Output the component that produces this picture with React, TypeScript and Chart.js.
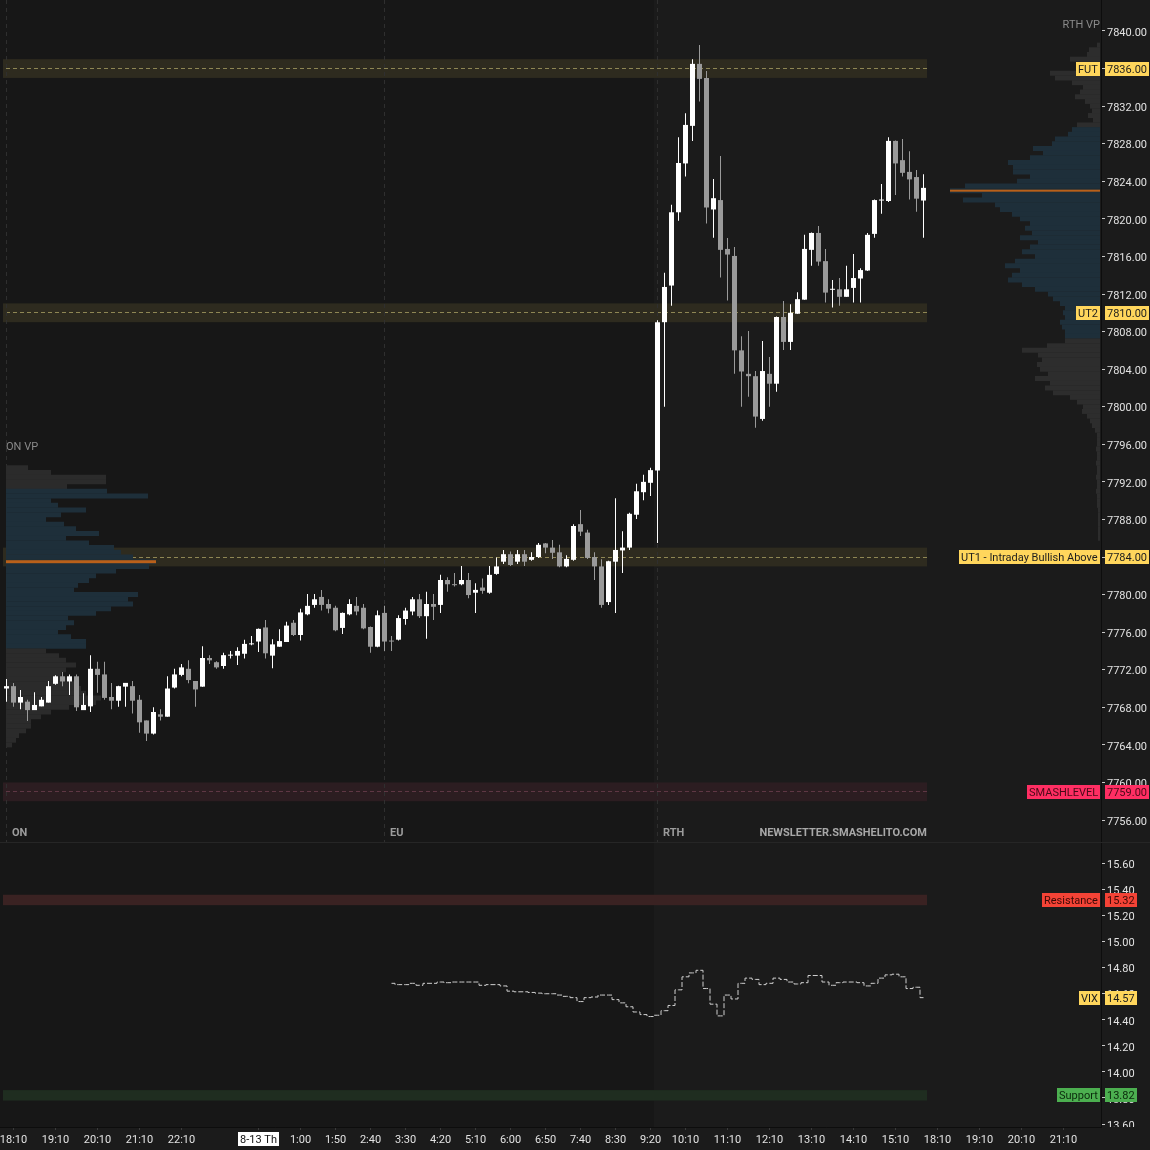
import React, { useEffect, useRef } from 'react';
import { Chart, registerables } from 'chart.js';

Chart.register(...registerables);

// ---------------- DATA ----------------
// 10-minute bars, index 0 = 18:00 (ON open)
const opens = [
  7770.0, 7770.25, 7768.5, 7768.6, 7767.7, 7768.1, 7768.5, 7770.5, 7771.3, 7770.75,
  7771.3, 7767.7, 7768.1, 7772.1, 7771.5, 7769.1, 7768.7, 7770.2, 7770.25, 7768.8,
  7766.6, 7765.2, 7767.25, 7767.0, 7770.1, 7771.45, 7772.1, 7770.8, 7770.2, 7773.25,
  7772.8, 7772.4, 7773.5, 7773.5, 7773.7, 7774.7, 7775.0, 7776.5, 7773.5, 7774.45,
  7774.95, 7777.0, 7775.7, 7777.9, 7778.9, 7779.75, 7779.0, 7778.6, 7776.45, 7777.9,
  7778.8, 7778.6, 7776.55, 7774.45, 7778.05, 7775.1, 7775.2, 7777.4, 7778.2, 7779.5,
  7777.7, 7779.0, 7778.9, 7781.55, 7781.05, 7781.1, 7781.55, 7780.2, 7780.75, 7780.2,
  7782.2, 7783.5, 7784.3, 7783.5, 7784.3, 7783.7, 7784.0, 7785.45, 7785.0, 7784.5,
  7783.0, 7783.7, 7787.5, 7786.6, 7784.0, 7783.0, 7779.2, 7783.5, 7784.7, 7785.0,
  7788.5, 7790.9, 7791.9, 7793.2, 7809.0, 7812.9, 7820.7, 7825.9, 7829.9, 7836.5,
  7835.0, 7821.0, 7822.0, 7816.8, 7816.05, 7806.0, 7803.5, 7803.25, 7798.7, 7803.5,
  7802.45, 7809.55, 7806.9, 7809.9, 7811.4, 7816.7, 7818.5, 7815.5, 7812.45, 7812.5,
  7811.7, 7812.65, 7813.65, 7814.5, 7818.4, 7821.95, 7821.9, 7828.3, 7826.25, 7825.0,
  7824.45, 7821.95,
];
const highs = [
  7771.0, 7770.6, 7769.85, 7768.8, 7769.6, 7769.1, 7770.8, 7771.4, 7771.75, 7771.5,
  7771.5, 7769.5, 7773.55, 7772.85, 7772.85, 7770.6, 7770.3, 7770.6, 7770.8, 7769.3,
  7766.6, 7768.0, 7767.8, 7771.3, 7772.1, 7772.6, 7773.0, 7770.8, 7774.5, 7773.55,
  7772.9, 7773.8, 7774.0, 7774.4, 7775.2, 7775.6, 7776.4, 7777.3, 7775.25, 7776.3,
  7777.1, 7777.3, 7778.5, 7780.05, 7780.05, 7780.5, 7779.5, 7778.8, 7778.1, 7779.5,
  7779.75, 7779.0, 7776.6, 7778.3, 7778.8, 7775.6, 7777.8, 7778.6, 7779.75, 7780.05,
  7780.3, 7780.05, 7782.1, 7781.85, 7782.3, 7783.05, 7782.3, 7781.2, 7781.7, 7783.05,
  7783.95, 7784.75, 7784.6, 7784.75, 7784.75, 7784.5, 7785.5, 7785.5, 7785.8, 7785.3,
  7784.2, 7787.5, 7789.0, 7786.9, 7784.5, 7783.75, 7783.6, 7790.25, 7786.75, 7788.7,
  7791.8, 7792.75, 7793.5, 7809.2, 7814.25, 7821.5, 7828.7, 7831.25, 7837.0, 7838.5,
  7835.75, 7824.25, 7826.7, 7817.95, 7817.0, 7807.5, 7808.05, 7803.8, 7807.0, 7805.3,
  7809.6, 7811.25, 7810.9, 7812.2, 7818.3, 7818.55, 7819.25, 7816.8, 7813.5, 7813.7,
  7815.0, 7816.25, 7814.75, 7818.5, 7822.05, 7823.7, 7828.7, 7828.35, 7828.5, 7827.2,
  7825.2, 7824.75,
];
const lows = [
  7768.6, 7768.05, 7767.8, 7766.55, 7767.7, 7768.1, 7768.5, 7770.4, 7770.25, 7769.3,
  7767.6, 7767.7, 7767.5, 7769.55, 7768.8, 7767.8, 7768.05, 7768.05, 7767.35, 7765.3,
  7764.4, 7765.1, 7766.6, 7767.0, 7770.0, 7771.3, 7770.55, 7768.05, 7770.2, 7772.6,
  7772.1, 7772.1, 7773.2, 7772.5, 7773.2, 7774.6, 7773.9, 7773.2, 7772.15, 7774.45,
  7774.95, 7775.6, 7775.1, 7777.8, 7778.6, 7778.3, 7778.0, 7776.1, 7775.8, 7777.8,
  7777.8, 7776.3, 7773.8, 7774.4, 7774.0, 7774.0, 7775.1, 7776.8, 7777.8, 7777.5,
  7775.3, 7777.3, 7778.05, 7780.3, 7780.85, 7781.0, 7779.6, 7778.05, 7780.1, 7780.1,
  7782.1, 7783.25, 7783.05, 7783.25, 7783.05, 7783.6, 7783.9, 7784.4, 7783.8, 7782.9,
  7782.9, 7783.6, 7786.25, 7783.8, 7781.55, 7778.6, 7778.9, 7778.05, 7782.3, 7784.75,
  7788.05, 7790.05, 7790.5, 7785.5, 7800.0, 7810.75, 7819.8, 7824.5, 7828.3, 7832.5,
  7819.5, 7818.0, 7813.75, 7811.3, 7803.5, 7800.0, 7801.05, 7797.75, 7798.5, 7800.0,
  7801.6, 7806.05, 7806.05, 7809.9, 7811.4, 7815.0, 7815.0, 7811.1, 7810.55, 7810.75,
  7811.7, 7811.1, 7811.1, 7814.45, 7818.0, 7820.55, 7821.8, 7822.55, 7824.5, 7822.05,
  7820.75, 7818.0,
];
const closes = [
  7770.25, 7768.5, 7769.1, 7767.7, 7768.25, 7768.8, 7770.25, 7771.3, 7770.75, 7771.3,
  7768.0, 7768.25, 7772.1, 7771.45, 7769.0, 7768.7, 7770.25, 7770.6, 7768.7, 7766.4,
  7765.2, 7767.5, 7767.0, 7770.0, 7771.5, 7772.25, 7770.9, 7769.9, 7773.25, 7773.0,
  7772.25, 7773.55, 7773.6, 7774.0, 7774.75, 7774.8, 7776.35, 7773.75, 7774.7, 7775.05,
  7776.7, 7775.7, 7778.1, 7778.8, 7779.5, 7778.9, 7778.5, 7776.2, 7778.05, 7779.0,
  7778.2, 7776.4, 7774.45, 7777.8, 7775.0, 7775.0, 7777.5, 7778.3, 7779.5, 7777.7,
  7779.0, 7778.7, 7781.55, 7781.1, 7781.0, 7781.55, 7779.95, 7780.5, 7780.4, 7782.1,
  7783.0, 7784.3, 7783.15, 7784.3, 7783.5, 7784.0, 7785.3, 7785.0, 7784.45, 7783.0,
  7783.8, 7787.3, 7786.7, 7783.9, 7783.0, 7778.9, 7783.55, 7784.75, 7785.0, 7788.6,
  7791.0, 7792.0, 7793.25, 7809.0, 7812.75, 7820.7, 7825.95, 7830.0, 7836.5, 7834.9,
  7821.2, 7822.2, 7816.7, 7816.2, 7806.0, 7803.75, 7803.25, 7798.95, 7803.8, 7802.45,
  7809.55, 7806.9, 7810.0, 7811.45, 7816.8, 7818.5, 7815.45, 7812.15, 7812.55, 7811.7,
  7812.5, 7813.7, 7814.55, 7818.3, 7822.0, 7822.0, 7828.3, 7825.9, 7824.9, 7824.2,
  7822.15, 7823.3,
];

// VIX (first value at bar vixStartBar)
const vixStartBar = 55;
const vixValues = [
  14.68, 14.67, 14.67, 14.68, 14.665, 14.68, 14.68, 14.69, 14.685, 14.69,
  14.69, 14.69, 14.69, 14.665, 14.67, 14.67, 14.66, 14.62, 14.615, 14.615,
  14.61, 14.605, 14.60, 14.60, 14.59, 14.58, 14.57, 14.54, 14.57, 14.575,
  14.59, 14.59, 14.555, 14.53, 14.50, 14.46, 14.44, 14.425, 14.435, 14.47,
  14.51, 14.63, 14.73, 14.76, 14.78, 14.64, 14.52, 14.43, 14.59, 14.56,
  14.68, 14.72, 14.71, 14.67, 14.68, 14.72, 14.71, 14.69, 14.675, 14.685,
  14.74, 14.74, 14.69, 14.665, 14.685, 14.69, 14.69, 14.685, 14.66, 14.68,
  14.72, 14.745, 14.75, 14.73, 14.64, 14.65, 14.57,
];

// Volume profiles (rows of 0.5 pt from the top price down)
const vpStep = 0.5;
const onVpTop = 7793.5;
const onVpVolumes = [
  22, 45, 100, 100, 61, 101, 142, 45, 52, 80,
  55, 40, 58, 70, 93, 60, 83, 108, 115, 127,
  150, 143, 110, 90, 83, 72, 68, 132, 122, 127,
  105, 90, 62, 68, 60, 52, 65, 80, 80, 40,
  53, 60, 70, 60, 55, 62, 72, 75, 80, 95,
  90, 63, 45, 35, 25, 25, 20, 13, 10, 6,
];
const onVaHigh = 7791;
const onVaLow = 7774.5;
const onPoc = 7783.5;

const rthVpTop = 7838.5;
const rthVpVolumes = [
  3, 11, 13, 30, 20, 22, 50, 45, 28, 17,
  20, 25, 15, 10, 8, 12, 7, 23, 28, 32,
  45, 48, 67, 57, 70, 92, 87, 87, 70, 83,
  135, 150, 118, 137, 105, 100, 88, 80, 70, 75,
  68, 80, 62, 70, 78, 65, 85, 95, 80, 88,
  92, 78, 65, 52, 47, 40, 35, 37, 35, 40,
  38, 35, 35, 35, 53, 78, 62, 58, 63, 60,
  52, 65, 50, 55, 47, 30, 23, 17, 18, 13,
  10, 8, 5, 3, 3, 3, 4, 3, 3, 4,
  3, 3, 4, 3, 3, 4, 3, 3, 3, 2,
  2, 2, 2, 2, 2, 2,
];
const rthVaHigh = 7829.5;
const rthVaLow = 7807.5;
const rthPoc = 7823;

// Levels
const priceLevelNames = ['FUT', 'UT2', 'UT1 - Intraday Bullish Above', 'SMASHLEVEL'];
const priceLevelValues = [7836, 7810, 7784, 7759];
const priceLevelKinds = ['target', 'target', 'target', 'smash'];
const vixLevelNames = ['Resistance', 'Support'];
const vixLevelValues = [15.32, 13.82];
const vixLevelKinds = ['resistance', 'support'];

// Sessions
const sessionNames = ['ON', 'EU', 'RTH'];
const sessionStartBars = [0, 54, 93];

// Axis ticks
const timeTickBars = [1, 7, 13, 19, 25, 36, 42, 47, 52, 57, 62, 67, 72, 77, 82, 87, 92, 97, 103, 109, 115, 121, 127, 133, 139, 145, 151];
const timeTickLabels = ['18:10', '19:10', '20:10', '21:10', '22:10', '8-13 Th', '1:00', '1:50', '2:40', '3:30', '4:20', '5:10', '6:00', '6:50', '7:40', '8:30', '9:20', '10:10', '11:10', '12:10', '13:10', '14:10', '15:10', '18:10', '19:10', '20:10', '21:10'];
const dateTickLabel = '8-13 Th';
const priceTicks = [7840, 7836, 7832, 7828, 7824, 7820, 7816, 7812, 7808, 7804, 7800, 7796, 7792, 7788, 7784, 7780, 7776, 7772, 7768, 7764, 7760, 7756];
const vixTicks = [15.6, 15.4, 15.2, 15.0, 14.8, 14.6, 14.4, 14.2, 14.0, 13.8, 13.6];

// ---------------- STYLE ----------------
const FONT = 'Roboto, "Noto Sans", sans-serif';
const BG = '#1b1b1b';
const BG_PRE = '#171717';
const UP = '#ffffff';
const DOWN = '#9a9a9a';
const VA_BLUE = '#1e2f3a';
const VP_GRAY_RTH = '#2d2d2d';
const VP_GRAY_ON = '#2b2b2b';
const POC_COLOR = '#b9601a';
const YELLOW = '#ffd65c';
const SMASH = '#ff2e63';
const RED = '#f44336';
const GREEN = '#4caf50';
const TICK_TEXT = '#e2e2e2';

const X_MIN = -6.5 / 7;
const X_MAX = X_MIN + 1101 / 7;

function drawTag(ctx: CanvasRenderingContext2D, text: string, x: number, yc: number, align: 'left' | 'right', bg: string, fg: string) {
  ctx.font = `11px ${FONT}`;
  const w = Math.round(ctx.measureText(text).width + 4);
  const h = 14;
  const left = align === 'right' ? Math.round(x - w) : Math.round(x);
  const top = Math.round(yc - h / 2);
  ctx.fillStyle = bg;
  ctx.fillRect(left, top, w, h);
  ctx.fillStyle = fg;
  ctx.textAlign = 'left';
  ctx.textBaseline = 'middle';
  ctx.fillText(text, left + 2, top + h / 2 + 1);
}

function drawAxisLabels(ctx: CanvasRenderingContext2D, s: any) {
  ctx.font = `11px ${FONT}`;
  ctx.fillStyle = TICK_TEXT;
  ctx.textAlign = 'left';
  ctx.textBaseline = 'middle';
  s.ticks.forEach((t: any) => {
    ctx.fillText(Number(t.value).toFixed(2), s.left + 6, s.getPixelForValue(t.value) + 2);
  });
}

const overlayPlugin = {
  id: 'overlay',
  beforeDraw(chart: any) {
    const { ctx, chartArea: ca, scales } = chart;
    ctx.save();
    ctx.fillStyle = BG;
    ctx.fillRect(0, 0, chart.width, chart.height);
    const xr = scales.x.getPixelForValue(sessionStartBars[2] - 0.5);
    ctx.fillStyle = BG_PRE;
    ctx.fillRect(ca.left, ca.top, xr - ca.left, ca.bottom - ca.top);
    ctx.restore();
  },
  beforeDatasetsDraw(chart: any) {
    const { ctx, scales } = chart;
    const xs = scales.x, ys = scales.y, ys2 = scales.y2;
    const xa = xs.getPixelForValue(-0.5);
    const xb = xs.getPixelForValue(opens.length - 0.5);
    ctx.save();
    priceLevelValues.forEach((v, k) => {
      const smash = priceLevelKinds[k] === 'smash';
      const t = ys.getPixelForValue(v + 1);
      const b = ys.getPixelForValue(v - 1);
      ctx.fillStyle = smash ? '#2c1d21' : '#2e2b1f';
      ctx.fillRect(xa, t, xb - xa, b - t);
      const yl = Math.floor(ys.getPixelForValue(v)) + 0.5;
      ctx.strokeStyle = smash ? '#5e3744' : '#8e8654';
      ctx.lineWidth = 1;
      ctx.setLineDash([4, 3]);
      ctx.beginPath();
      ctx.moveTo(xa + 3, yl);
      ctx.lineTo(xb, yl);
      ctx.stroke();
    });
    ctx.setLineDash([]);
    vixLevelValues.forEach((v, k) => {
      const t = ys2.getPixelForValue(v + 0.04);
      const b = ys2.getPixelForValue(v - 0.04);
      ctx.fillStyle = vixLevelKinds[k] === 'resistance' ? '#3a2222' : '#1f2d20';
      ctx.fillRect(xa, t, xb - xa, b - t);
    });
    // session separators
    ctx.strokeStyle = '#2f2f2f';
    ctx.setLineDash([4, 4]);
    sessionStartBars.forEach((bar) => {
      const px = Math.floor(xs.getPixelForValue(bar)) + 0.5;
      ctx.beginPath();
      ctx.moveTo(px, ys.top);
      ctx.lineTo(px, ys.bottom);
      ctx.stroke();
    });
    ctx.restore();
  },
  afterDatasetsDraw(chart: any) {
    const { ctx, scales } = chart;
    const xs = scales.x, ys = scales.y, xOn = scales.xOn, xRth = scales.xRth;
    ctx.save();
    // POC lines
    ctx.fillStyle = POC_COLOR;
    const onPocY = ys.getPixelForValue(onPoc);
    const onPocVol = onVpVolumes[Math.round((onVpTop - onPoc) / vpStep)];
    ctx.fillRect(xOn.getPixelForValue(0), onPocY - 1.5, xOn.getPixelForValue(onPocVol) - xOn.getPixelForValue(0), 3);
    const rthPocY = ys.getPixelForValue(rthPoc);
    const rthPocVol = rthVpVolumes[Math.round((rthVpTop - rthPoc) / vpStep)];
    const rx0 = xRth.getPixelForValue(rthPocVol);
    ctx.fillRect(rx0, rthPocY - 1, xRth.getPixelForValue(0) - rx0, 2);

    // VP titles
    ctx.font = `11px ${FONT}`;
    ctx.fillStyle = '#8a8a8a';
    ctx.textBaseline = 'middle';
    ctx.textAlign = 'left';
    ctx.fillText('ON VP', xOn.getPixelForValue(0), ys.getPixelForValue(onVpTop) - 21);
    ctx.textAlign = 'right';
    ctx.fillText('RTH VP', xRth.getPixelForValue(0), ys.getPixelForValue(rthVpTop) - 20);

    // session names + watermark
    ctx.font = `bold 11px ${FONT}`;
    ctx.fillStyle = '#9c9c9c';
    ctx.textAlign = 'left';
    const ly = ys.bottom - 9;
    sessionStartBars.forEach((bar, k) => {
      ctx.fillText(sessionNames[k], Math.floor(xs.getPixelForValue(bar)) + 6, ly);
    });
    ctx.fillStyle = '#a8a8a8';
    ctx.textAlign = 'right';
    ctx.fillText('NEWSLETTER.SMASHELITO.COM', xs.getPixelForValue(opens.length - 0.5), ly);
    ctx.restore();
  },
  afterDraw(chart: any) {
    const { ctx, scales } = chart;
    const xs = scales.x, ys = scales.y, ys2 = scales.y2;
    ctx.save();
    // price / vix tick labels (drawn here for exact vertical placement)
    drawAxisLabels(ctx, ys);
    drawAxisLabels(ctx, ys2);
    // clip bottom corner of VIX axis
    ctx.fillStyle = BG;
    ctx.fillRect(ys2.left + 1, ys2.bottom, chart.width - ys2.left, chart.height - ys2.bottom);
    // panel separator
    ctx.fillStyle = '#262626';
    ctx.fillRect(0, Math.round(ys.bottom), chart.width, 1);

    const nameRight = ys.left - 1;
    const valueLeft = ys.left + 4;
    priceLevelValues.forEach((v, k) => {
      const smash = priceLevelKinds[k] === 'smash';
      const yc = ys.getPixelForValue(v);
      const bg = smash ? SMASH : YELLOW;
      const fg = smash ? '#4a0a18' : '#1d1d1d';
      drawTag(ctx, priceLevelNames[k], nameRight, yc, 'right', bg, fg);
      drawTag(ctx, v.toFixed(2), valueLeft, yc, 'left', bg, fg);
    });
    vixLevelValues.forEach((v, k) => {
      const res = vixLevelKinds[k] === 'resistance';
      const yc = ys2.getPixelForValue(v);
      const bg = res ? RED : GREEN;
      const fg = res ? '#3d0906' : '#0b2a0c';
      drawTag(ctx, vixLevelNames[k], nameRight, yc, 'right', bg, fg);
      drawTag(ctx, v.toFixed(2), valueLeft, yc, 'left', bg, fg);
    });
    const lastVix = vixValues[vixValues.length - 1];
    const vy = ys2.getPixelForValue(lastVix);
    drawTag(ctx, 'VIX', nameRight, vy, 'right', YELLOW, '#1d1d1d');
    drawTag(ctx, lastVix.toFixed(2), valueLeft, vy, 'left', YELLOW, '#1d1d1d');

    // date label on time axis
    const di = timeTickLabels.indexOf(dateTickLabel);
    const dx = xs.getPixelForValue(timeTickBars[di]);
    ctx.font = `11px ${FONT}`;
    const dw = Math.round(ctx.measureText(dateTickLabel).width + 4);
    const dy = xs.top + 12;
    ctx.fillStyle = '#ffffff';
    ctx.fillRect(Math.round(dx - dw / 2), Math.round(dy - 7), dw, 14);
    ctx.fillStyle = '#111111';
    ctx.textAlign = 'center';
    ctx.textBaseline = 'middle';
    ctx.fillText(dateTickLabel, dx, dy + 1);
    ctx.restore();
  },
};

export default function App() {
  const ref = useRef<HTMLCanvasElement>(null);
  useEffect(() => {
    document.body.style.margin = '0';
    document.body.style.background = BG;
    Chart.defaults.font.family = FONT;
    Chart.defaults.font.size = 11;
    const candleColors = opens.map((o, i) => (closes[i] >= o ? UP : DOWN));
    const onPrices = onVpVolumes.map((_, k) => onVpTop - k * vpStep);
    const rthPrices = rthVpVolumes.map((_, k) => rthVpTop - k * vpStep);

    const yAxisCommon = {
      type: 'linear',
      position: 'right',
      stack: 'panels',
      offset: false,
      bounds: 'data',
      afterFit: (s: any) => { s.width = 49; s.paddingTop = 0; s.paddingBottom = 0; },
      ticks: { color: 'rgba(0,0,0,0)', padding: 1, autoSkip: false, font: { size: 11 }, callback: (v: any) => Number(v).toFixed(2) },
      grid: { drawOnChartArea: false, drawTicks: true, tickLength: 4, color: '#c8c8c8', offset: false },
      border: { display: true, color: '#0d0d0d' },
    };

    const chart = new Chart(ref.current as HTMLCanvasElement, {
      type: 'bar',
      data: {
        datasets: [
          {
            type: 'line',
            label: 'VIX',
            data: vixValues.map((v, k) => ({ x: vixStartBar + k, y: v })),
            xAxisID: 'x',
            yAxisID: 'y2',
            stepped: 'middle',
            borderColor: '#cfcfcf',
            borderWidth: 1,
            borderDash: [5, 2],
            pointRadius: 0,
            fill: false,
            order: 0,
          } as any,
          {
            label: 'bodies',
            data: opens.map((o, i) => ({ x: i, y: [o, closes[i]] })),
            xAxisID: 'x',
            yAxisID: 'y',
            backgroundColor: candleColors,
            barThickness: 5,
            minBarLength: 1,
            grouped: false,
            inflateAmount: 0,
            borderWidth: 0,
            order: 1,
          } as any,
          {
            label: 'wicks',
            data: opens.map((_, i) => ({ x: i, y: [lows[i], highs[i]] })),
            xAxisID: 'x',
            yAxisID: 'y',
            backgroundColor: candleColors,
            barThickness: 1,
            grouped: false,
            inflateAmount: 0,
            borderWidth: 0,
            order: 2,
          } as any,
          {
            label: 'ON VP',
            indexAxis: 'y',
            data: onVpVolumes.map((v, k) => ({ x: v, y: onPrices[k] })),
            xAxisID: 'xOn',
            yAxisID: 'y',
            backgroundColor: onPrices.map((p) => (p <= onVaHigh && p >= onVaLow ? VA_BLUE : VP_GRAY_ON)),
            barThickness: 5,
            grouped: false,
            inflateAmount: 0,
            borderWidth: 0,
            order: 5,
          } as any,
          {
            label: 'RTH VP',
            indexAxis: 'y',
            data: rthVpVolumes.map((v, k) => ({ x: v, y: rthPrices[k] })),
            xAxisID: 'xRth',
            yAxisID: 'y',
            backgroundColor: rthPrices.map((p) => (p <= rthVaHigh && p >= rthVaLow ? VA_BLUE : VP_GRAY_RTH)),
            barThickness: 5,
            grouped: false,
            inflateAmount: 0,
            borderWidth: 0,
            order: 5,
          } as any,
        ],
      },
      options: {
        responsive: false,
        devicePixelRatio: 1,
        animation: false,
        events: [],
        layout: { padding: 0, autoPadding: false } as any,
        plugins: { legend: { display: false }, tooltip: { enabled: false }, title: { display: false } },
        scales: {
          y: {
            ...yAxisCommon,
            stackWeight: 842,
            min: 7753.66,
            max: 7843.3,
            afterBuildTicks: (s: any) => { s.ticks = priceTicks.map((v) => ({ value: v })); },
          } as any,
          y2: {
            ...yAxisCommon,
            stackWeight: 285,
            min: 13.577,
            max: 15.765,
            afterBuildTicks: (s: any) => { s.ticks = vixTicks.map((v) => ({ value: v })); },
          } as any,
          x: {
            type: 'linear',
            position: 'bottom',
            min: X_MIN,
            max: X_MAX,
            offset: false,
            bounds: 'data',
            afterBuildTicks: (s: any) => { s.ticks = timeTickBars.map((v) => ({ value: v })); },
            afterFit: (s: any) => { s.height = 23; s.paddingLeft = 0; s.paddingRight = 0; },
            ticks: {
              color: TICK_TEXT,
              autoSkip: false,
              maxRotation: 0,
              minRotation: 0,
              padding: 4,
              font: { size: 11 },
              callback: (v: any) => {
                const k = timeTickBars.indexOf(Number(v));
                return k >= 0 ? timeTickLabels[k] : '';
              },
            },
            grid: { drawOnChartArea: false, drawTicks: true, tickLength: 3, color: '#3c3c3c', offset: false },
            border: { display: true, color: '#0d0d0d' },
          } as any,
          xOn: {
            type: 'linear',
            axis: 'x',
            display: false,
            min: -6,
            max: 1095,
            offset: false,
            bounds: 'data',
            grid: { offset: false },
          } as any,
          xRth: {
            type: 'linear',
            axis: 'x',
            display: false,
            reverse: true,
            min: -1,
            max: 1100,
            offset: false,
            bounds: 'data',
            grid: { offset: false },
          } as any,
        },
      },
      plugins: [overlayPlugin as any],
    });
    return () => chart.destroy();
  }, []);
  return (
    <div style={{ width: 1150, height: 1150 }}>
      <canvas ref={ref} width={1150} height={1150} style={{ display: 'block', width: 1150, height: 1150 }} />
    </div>
  );
}
